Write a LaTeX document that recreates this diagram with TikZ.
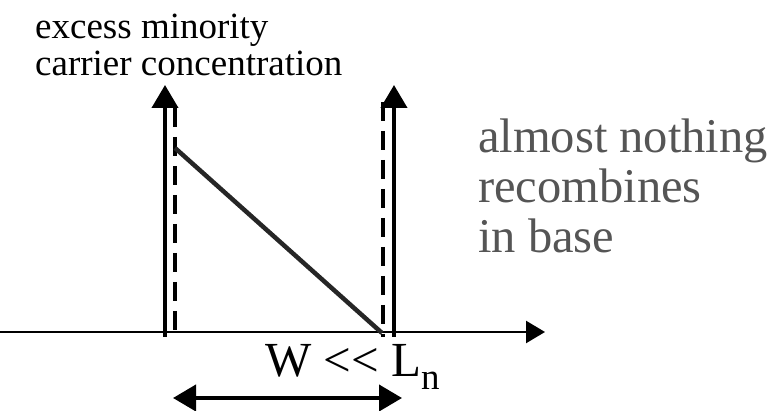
\documentclass[tikz,border=0pt]{standalone}
\usepackage{fontspec}
\setmainfont{Liberation Serif}
\usetikzlibrary{arrows.meta}
\definecolor{notegray}{HTML}{555555}

\begin{document}
\begin{tikzpicture}[x=1pt, y=-1pt,
  axis/.style={line width=2.5pt, -{Triangle[length=19pt, width=22pt]}},
  wall/.style={line width=4pt, -{Triangle[length=23pt, width=26pt]}},
  edge/.style={line width=3.3pt, dash pattern=on 19pt off 10pt},
  profile/.style={line width=4.5pt, black!85},
  span/.style={line width=4pt, {Triangle[length=23pt, width=26pt]}-{Triangle[length=23pt, width=26pt]}},
  lbl/.style={inner sep=0pt, align=left}
]
  \useasboundingbox (0,0) rectangle (769,411);

  % Axis
  \coordinate (o) at (0,332);
  \coordinate (xend) at (545,332);
  \draw[axis] (o) -- (xend);

  % Walls of the base
  \coordinate (lb) at (165,337);
  \coordinate (lt) at (165,85);
  \coordinate (rb) at (394,337);
  \coordinate (rt) at (394,85);
  \draw[wall] (lb) -- (lt);
  \draw[wall] (rb) -- (rt);

  % Edges of the neutral base
  \coordinate (ldt) at (175,108);
  \coordinate (ldb) at (175,337);
  \coordinate (rdt) at (383,102);
  \coordinate (rdb) at (383,337);
  \draw[edge] (ldt) -- (ldb);
  \draw[edge] (rdt) -- (rdb);

  % Linear profile
  \coordinate (pa) at (175,148);
  \coordinate (pb) at (382,333);
  \draw[profile] (pa) -- (pb);

  % Width
  \coordinate (wa) at (173,398);
  \coordinate (wb) at (402,398);
  \draw[span] (wa) -- (wb);

  % Labels
  \node[lbl, anchor=north west, font=\fontsize{37}{37}\selectfont] (ylab) at (35,14)
    {excess minority\\carrier concentration};
  \node[lbl, anchor=north west, text=notegray, font=\fontsize{48.5}{50}\selectfont] (note) at (478,119)
    {almost nothing\\recombines\\in base};
  \node[inner sep=0pt, anchor=base west, font=\fontsize{49}{50}\selectfont] (wl) at (265,377)
    {W <\kern0pt< L\raisebox{-13pt}{\fontsize{37}{37}\selectfont n}};
\end{tikzpicture}
\end{document}
